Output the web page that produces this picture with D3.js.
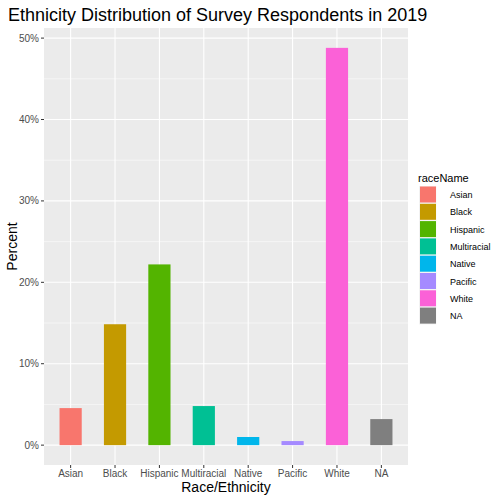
<!DOCTYPE html><html><head><meta charset="utf-8"><script src="https://cdn.jsdelivr.net/npm/d3@7"></script>
<style>body{margin:0;background:#fff}text{font-family:"Liberation Sans",Arial,sans-serif}</style></head><body><svg id="c" width="498" height="500"></svg><script>
const categories=["Asian","Black","Hispanic","Multiracial","Native","Pacific","White","NA"];
const values=[4.55,14.85,22.2,4.8,1.0,0.5,48.8,3.2];
const colors=["#F8766D","#C49A00","#53B400","#00C094","#00B6EB","#A58AFF","#FB61D7","#7F7F7F"];
const yTicks=[0,10,20,30,40,50];
const svg=d3.select("#c");
const L=44,R=408,T=28,B=465;
const y=d3.scaleLinear().domain([-2.44,51.24]).range([B,T]);
svg.append("rect").attr("x",L).attr("y",T).attr("width",R-L).attr("height",B-T).attr("fill","#EBEBEB");
const minor=[5,15,25,35,45];
minor.forEach(v=>svg.append("line").attr("x1",L).attr("x2",R).attr("y1",y(v)).attr("y2",y(v)).attr("stroke","#fff").attr("stroke-width",0.5));
yTicks.forEach(v=>svg.append("line").attr("x1",L).attr("x2",R).attr("y1",y(v)).attr("y2",y(v)).attr("stroke","#fff").attr("stroke-width",1.1));
const step=(R-L)/(categories.length+0.2);
const cx=c=>L+step*(0.6+categories.indexOf(c));
categories.forEach(c=>svg.append("line").attr("x1",cx(c)).attr("x2",cx(c)).attr("y1",T).attr("y2",B).attr("stroke","#fff").attr("stroke-width",1.1));
const bw=step*0.5;
svg.selectAll(".bar").data(categories).enter().append("rect").attr("x",c=>cx(c)-bw/2).attr("width",bw)
 .attr("y",(c,i)=>y(values[i])).attr("height",(c,i)=>y(0)-y(values[i])).attr("fill",(c,i)=>colors[i]);
yTicks.forEach(v=>{svg.append("line").attr("x1",L-3).attr("x2",L).attr("y1",y(v)).attr("y2",y(v)).attr("stroke","#333");
 svg.append("text").attr("x",L-5).attr("y",y(v)+3.5).attr("text-anchor","end").attr("font-size",10).attr("fill","#4D4D4D").text(v+"%");});
categories.forEach(c=>{svg.append("line").attr("x1",cx(c)).attr("x2",cx(c)).attr("y1",B).attr("y2",B+3).attr("stroke","#333");
 svg.append("text").attr("x",cx(c)).attr("y",B+12).attr("text-anchor","middle").attr("font-size",10).attr("fill","#4D4D4D").text(c);});
svg.append("text").attr("x",8).attr("y",21).attr("font-size",18).text("Ethnicity Distribution of Survey Respondents in 2019");
svg.append("text").attr("x",(L+R)/2).attr("y",492).attr("text-anchor","middle").attr("font-size",14).text("Race/Ethnicity");
svg.append("text").attr("transform",`translate(17,${(T+B)/2}) rotate(-90)`).attr("text-anchor","middle").attr("font-size",14).text("Percent");
svg.append("text").attr("x",418).attr("y",182).attr("font-size",11).text("raceName");
categories.forEach((c,i)=>{const yy=186+i*17.3;
 svg.append("rect").attr("x",419).attr("y",yy).attr("width",17.3).attr("height",17.3).attr("fill","#F2F2F2");
 svg.append("rect").attr("x",420).attr("y",yy+0.5).attr("width",16).attr("height",16).attr("fill",colors[i]);
 svg.append("text").attr("x",450).attr("y",yy+12).attr("font-size",9).text(c);});
</script></body></html>
